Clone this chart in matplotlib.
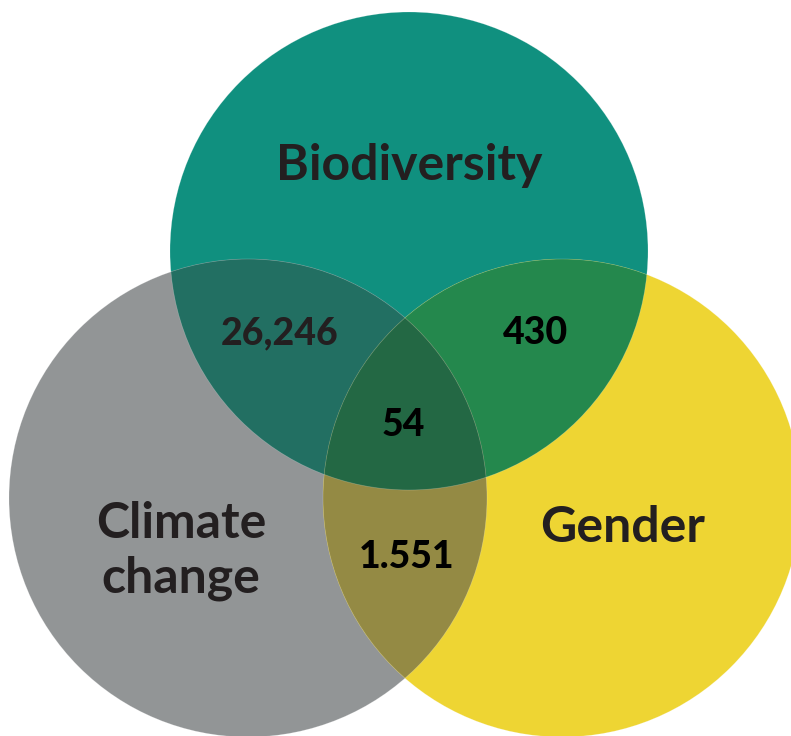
import matplotlib
matplotlib.use("Agg")
import matplotlib.pyplot as plt
from matplotlib.patches import Circle, Polygon
import numpy as np

plt.rcParams['font.family'] = ['Lato', 'DejaVu Sans']

# sets and overlap counts
set_names = ['Biodiversity', 'Climate\nchange', 'Gender']
bio_climate = '26,246'
bio_gender = '430'
climate_gender = '1.551'
all_three = '54'

# colours
c_bio = '#10907F'
c_clim = '#929596'
c_gen = '#EED533'
c_bio_clim = '#226F62'
c_bio_gen = '#24884D'
c_clim_gen = '#948A44'
c_all = '#236844'
txt_col = '#231F20'

# layout (pixels, y down)
R = 239
centers = [(409, 251), (248, 498), (562, 498)]

fig = plt.figure(figsize=(7.91, 7.36), dpi=100)
ax = fig.add_axes([0, 0, 1, 1])
ax.set_xlim(0, 791)
ax.set_ylim(736, 0)
ax.set_aspect('equal')
ax.axis('off')


def lens(c1, c2, r, n=2000):
    t = np.linspace(0, 2 * np.pi, n, endpoint=False)
    pts = []
    for a, b in [(c1, c2), (c2, c1)]:
        x = a[0] + r * np.cos(t)
        y = a[1] + r * np.sin(t)
        m = (x - b[0]) ** 2 + (y - b[1]) ** 2 <= r ** 2
        pts.append(np.column_stack([x[m], y[m]]))
    pts = np.vstack(pts)
    cx, cy = pts.mean(axis=0)
    order = np.argsort(np.arctan2(pts[:, 1] - cy, pts[:, 0] - cx))
    return pts[order]


bio, clim, gen = centers
circ = {}
for c, col in zip(centers, [c_bio, c_clim, c_gen]):
    p = Circle(c, R, facecolor=col, edgecolor='none')
    ax.add_patch(p)
    circ[c] = p

# pairwise overlaps
for a, b, col in [(clim, bio, c_bio_clim), (gen, bio, c_bio_gen), (gen, clim, c_clim_gen)]:
    p = Circle(a, R, facecolor=col, edgecolor='none')
    ax.add_patch(p)
    p.set_clip_path(circ[b])

# triple overlap
lp = Polygon(lens(bio, clim, R), closed=True, facecolor='none', edgecolor='none')
ax.add_patch(lp)
p = Circle(gen, R, facecolor=c_all, edgecolor='none')
ax.add_patch(p)
p.set_clip_path(lp)

# thin light seams
for c in centers:
    ax.add_patch(Circle(c, R, facecolor='none', edgecolor='white', lw=0.5, alpha=0.25))

ax.text(409, 165, set_names[0], ha='center', va='center', fontsize=36,
        fontweight='bold', color=txt_col)
ax.text(181, 551, set_names[1], ha='center', va='center', fontsize=36,
        fontweight='bold', color=txt_col, linespacing=1.28)
ax.text(623, 527, set_names[2], ha='center', va='center', fontsize=36,
        fontweight='bold', color=txt_col)

ax.text(280, 333, bio_climate, ha='center', va='center', fontsize=27,
        fontweight='black', color=txt_col)
ax.text(535, 333, bio_gender, ha='center', va='center', fontsize=27,
        fontweight='black', color='black')
ax.text(403, 425, all_three, ha='center', va='center', fontsize=27,
        fontweight='black', color='black')
ax.text(407, 557, climate_gender, ha='center', va='center', fontsize=27,
        fontweight='black', color='black')

fig.savefig('out.png', dpi=100)
